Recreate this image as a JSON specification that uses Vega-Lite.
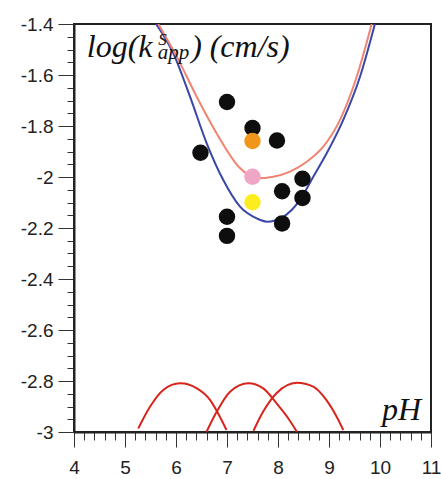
{
  "$schema": "https://vega.github.io/schema/vega-lite/v6.json",
  "width": 357,
  "height": 408,
  "autosize": "none",
  "padding": {"left": 74, "top": 24, "right": 10, "bottom": 47},
  "background": "white",
  "config": {
    "view": {"stroke": "#222", "strokeWidth": 2},
    "axis": {
      "grid": false,
      "domainColor": "#222",
      "domainWidth": 2,
      "tickColor": "#333",
      "tickWidth": 1,
      "labelFont": "Liberation Sans",
      "labelFontSize": 19,
      "labelColor": "#222",
      "labelOverlap": false,
      "labelFlush": false,
      "title": null
    }
  },
  "datasets": {
    "points": [
      {"pH": 7.0, "logk": -1.706, "kind": "black"},
      {"pH": 7.5, "logk": -1.808, "kind": "black"},
      {"pH": 7.98, "logk": -1.857, "kind": "black"},
      {"pH": 6.48, "logk": -1.905, "kind": "black"},
      {"pH": 8.48, "logk": -2.007, "kind": "black"},
      {"pH": 8.08, "logk": -2.056, "kind": "black"},
      {"pH": 8.48, "logk": -2.082, "kind": "black"},
      {"pH": 7.0, "logk": -2.156, "kind": "black"},
      {"pH": 8.08, "logk": -2.182, "kind": "black"},
      {"pH": 7.0, "logk": -2.231, "kind": "black"},
      {"pH": 7.5, "logk": -1.859, "kind": "orange"},
      {"pH": 7.5, "logk": -1.999, "kind": "pink"},
      {"pH": 7.5, "logk": -2.099, "kind": "yellow"}
    ],
    "curves": [
      {"curve": "blue", "pH": 5.61, "logk": -1.4},
      {"curve": "blue", "pH": 5.947, "logk": -1.515},
      {"curve": "blue", "pH": 6.275, "logk": -1.685},
      {"curve": "blue", "pH": 6.602, "logk": -1.868},
      {"curve": "blue", "pH": 6.927, "logk": -2.012},
      {"curve": "blue", "pH": 7.255, "logk": -2.116},
      {"curve": "blue", "pH": 7.582, "logk": -2.162},
      {"curve": "blue", "pH": 7.778, "logk": -2.175},
      {"curve": "blue", "pH": 8.104, "logk": -2.156},
      {"curve": "blue", "pH": 8.431, "logk": -2.09},
      {"curve": "blue", "pH": 8.692, "logk": -1.999},
      {"curve": "blue", "pH": 8.955, "logk": -1.907},
      {"curve": "blue", "pH": 9.28, "logk": -1.776},
      {"curve": "blue", "pH": 9.608, "logk": -1.607},
      {"curve": "blue", "pH": 9.9, "logk": -1.4},
      {"curve": "salmon", "pH": 5.653, "logk": -1.4},
      {"curve": "salmon", "pH": 6.014, "logk": -1.528},
      {"curve": "salmon", "pH": 6.406, "logk": -1.685},
      {"curve": "salmon", "pH": 6.798, "logk": -1.829},
      {"curve": "salmon", "pH": 7.255, "logk": -1.965},
      {"curve": "salmon", "pH": 7.582, "logk": -2.005},
      {"curve": "salmon", "pH": 7.908, "logk": -1.999},
      {"curve": "salmon", "pH": 8.235, "logk": -1.979},
      {"curve": "salmon", "pH": 8.563, "logk": -1.94},
      {"curve": "salmon", "pH": 8.888, "logk": -1.881},
      {"curve": "salmon", "pH": 9.216, "logk": -1.776},
      {"curve": "salmon", "pH": 9.543, "logk": -1.607},
      {"curve": "salmon", "pH": 9.837, "logk": -1.4},
      {"curve": "arc1", "pH": 5.26, "logk": -2.986},
      {"curve": "arc1", "pH": 5.49, "logk": -2.901},
      {"curve": "arc1", "pH": 5.75, "logk": -2.835},
      {"curve": "arc1", "pH": 6.08, "logk": -2.809},
      {"curve": "arc1", "pH": 6.41, "logk": -2.829},
      {"curve": "arc1", "pH": 6.67, "logk": -2.875},
      {"curve": "arc1", "pH": 6.86, "logk": -2.94},
      {"curve": "arc1", "pH": 6.99, "logk": -2.992},
      {"curve": "arc2", "pH": 6.6, "logk": -2.999},
      {"curve": "arc2", "pH": 6.8, "logk": -2.92},
      {"curve": "arc2", "pH": 7.06, "logk": -2.842},
      {"curve": "arc2", "pH": 7.42, "logk": -2.809},
      {"curve": "arc2", "pH": 7.71, "logk": -2.829},
      {"curve": "arc2", "pH": 7.97, "logk": -2.887},
      {"curve": "arc2", "pH": 8.2, "logk": -2.946},
      {"curve": "arc2", "pH": 8.37, "logk": -2.999},
      {"curve": "arc3", "pH": 7.52, "logk": -2.995},
      {"curve": "arc3", "pH": 7.71, "logk": -2.92},
      {"curve": "arc3", "pH": 7.97, "logk": -2.848},
      {"curve": "arc3", "pH": 8.37, "logk": -2.807},
      {"curve": "arc3", "pH": 8.69, "logk": -2.822},
      {"curve": "arc3", "pH": 8.95, "logk": -2.875},
      {"curve": "arc3", "pH": 9.15, "logk": -2.94},
      {"curve": "arc3", "pH": 9.28, "logk": -2.992}
    ],
    "bigText": [
      {"label": "log(k", "pH": 4.25, "logk": -1.528},
      {"label": ")", "pH": 6.3, "logk": -1.528},
      {"label": "(cm/s)", "pH": 6.66, "logk": -1.528},
      {"label": "pH", "pH": 10.04, "logk": -2.953}
    ],
    "supText": [
      {"label": "S", "pH": 5.65, "logk": -1.482}
    ],
    "subText": [
      {"label": "app", "pH": 5.64, "logk": -1.537}
    ]
  },
  "encoding": {
    "x": {
      "field": "pH", "type": "quantitative",
      "scale": {"domain": [4, 11], "nice": false, "zero": false},
      "axis": {
        "values": [4,4.2,4.4,4.6,4.8,5,5.2,5.4,5.6,5.8,6,6.2,6.4,6.6,6.8,7,7.2,7.4,7.6,7.8,8,8.2,8.4,8.6,8.8,9,9.2,9.4,9.6,9.8,10,10.2,10.4,10.6,10.8,11],
        "tickSize": {"condition": {"test": "abs(datum.value - round(datum.value)) < 0.000001", "value": 15}, "value": 8},
        "labelExpr": "abs(datum.value - round(datum.value)) < 0.000001 ? '' + round(datum.value) : ''",
        "labelPadding": 11
      }
    },
    "y": {
      "field": "logk", "type": "quantitative",
      "scale": {"domain": [-3, -1.4], "nice": false, "zero": false},
      "axis": {
        "values": [-3,-2.95,-2.9,-2.85,-2.8,-2.75,-2.7,-2.65,-2.6,-2.55,-2.5,-2.45,-2.4,-2.35,-2.3,-2.25,-2.2,-2.15,-2.1,-2.05,-2,-1.95,-1.9,-1.85,-1.8,-1.75,-1.7,-1.65,-1.6,-1.55,-1.5,-1.45,-1.4],
        "tickSize": {"condition": {"test": "abs(datum.value * 5 - round(datum.value * 5)) < 0.000001", "value": 16}, "value": 7},
        "labelExpr": "abs(datum.value * 5 - round(datum.value * 5)) < 0.000001 ? '' + datum.value : ''",
        "labelPadding": 5
      }
    }
  },
  "layer": [
    {
      "data": {"name": "curves"},
      "mark": {"type": "line", "strokeWidth": 2, "clip": true, "interpolate": "monotone"},
      "encoding": {
        "detail": {"field": "curve"},
        "stroke": {
          "field": "curve", "type": "nominal",
          "scale": {"domain": ["blue", "salmon", "arc1", "arc2", "arc3"], "range": ["#3a47a6", "#ef8472", "#d9231b", "#d9231b", "#d9231b"]},
          "legend": null
        },
        "order": {"field": "pH", "type": "quantitative"}
      }
    },
    {
      "data": {"name": "points"},
      "mark": {"type": "circle", "size": 270, "opacity": 1},
      "encoding": {
        "fill": {
          "field": "kind", "type": "nominal",
          "scale": {"domain": ["black", "orange", "pink", "yellow"], "range": ["#0e0e0e", "#f0961a", "#f0a7c7", "#fcee1e"]},
          "legend": null
        }
      }
    },
    {
      "data": {"name": "bigText"},
      "mark": {"type": "text", "font": "Liberation Serif", "fontStyle": "italic", "fontSize": 32, "align": "left", "baseline": "alphabetic", "color": "#111"},
      "encoding": {"text": {"field": "label"}}
    },
    {
      "data": {"name": "supText"},
      "mark": {"type": "text", "font": "Liberation Serif", "fontStyle": "italic", "fontSize": 17, "align": "left", "baseline": "alphabetic", "color": "#111"},
      "encoding": {"text": {"field": "label"}}
    },
    {
      "data": {"name": "subText"},
      "mark": {"type": "text", "font": "Liberation Serif", "fontStyle": "italic", "fontSize": 21, "align": "left", "baseline": "alphabetic", "color": "#111"},
      "encoding": {"text": {"field": "label"}}
    }
  ]
}
